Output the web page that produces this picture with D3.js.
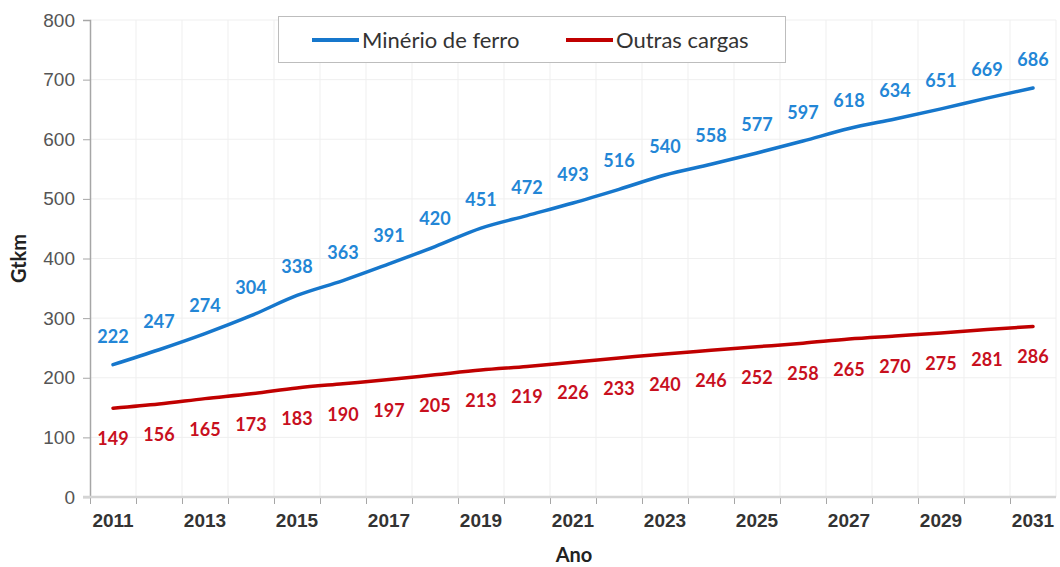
<!DOCTYPE html>
<html>
<head>
<meta charset="utf-8">
<script src="https://cdn.jsdelivr.net/npm/d3@7"></script>
<style>
  body { margin: 0; background: #fff; }
  svg { font-family: Lato, "Open Sans", sans-serif; }
</style>
</head>
<body>
<svg class="chart" width="1060" height="567"></svg>
<script>
// Static data
const years = d3.range(2011, 2032);
const minerio = [222, 247, 274, 304, 338, 363, 391, 420, 451, 472, 493, 516, 540, 558, 577, 597, 618, 634, 651, 669, 686];
const outras = [149, 156, 165, 173, 183, 190, 197, 205, 213, 219, 226, 233, 240, 246, 252, 258, 265, 270, 275, 281, 286];
const yTicks = [0, 100, 200, 300, 400, 500, 600, 700, 800];
const xLabels = years.filter(d => d % 2 === 1);

const seriesNames = ['Minério de ferro', 'Outras cargas'];
const colors = ['#1677cc', '#c00000'];
const labelColors = ['#2386d6', '#c8101e'];

const margin = { top: 20, right: 4, bottom: 70, left: 90 };
const width = 1060, height = 567;
const w = width - margin.left - margin.right;
const h = height - margin.top - margin.bottom;

const svg = d3.select('.chart');
const g = svg.append('g').attr('transform', `translate(${margin.left}, ${margin.top})`);

// scales
const x = d3.scaleBand().domain(years).range([0, w]).padding(0);
const xEdge = d3.scaleLinear().domain([0, years.length]).range([0, w]);
const y = d3.scaleLinear().domain([0, 800]).range([h, 0]);

// grid
g.append('g').selectAll('line')
  .data(yTicks.slice(1))
  .enter().append('line')
  .attr('x1', 0).attr('x2', w)
  .attr('y1', d => y(d)).attr('y2', d => y(d))
  .attr('stroke', '#efefef');

g.append('g').selectAll('line')
  .data(d3.range(1, years.length + 1))
  .enter().append('line')
  .attr('x1', d => xEdge(d)).attr('x2', d => xEdge(d))
  .attr('y1', 0).attr('y2', h)
  .attr('stroke', '#efefef');

// y axis
const yAxis = g.append('g')
  .call(d3.axisLeft(y).tickValues(yTicks).tickSize(7).tickPadding(8));
yAxis.select('.domain').attr('stroke', '#a6a6a6').attr('stroke-width', 1.5);
yAxis.selectAll('.tick line').attr('stroke', '#a6a6a6');
yAxis.selectAll('text').attr('fill', '#555').style('font-size', '19px');

// x axis ticks at category edges
const xTickAxis = g.append('g')
  .attr('transform', `translate(0, ${h})`)
  .call(d3.axisBottom(xEdge).tickValues(d3.range(0, years.length)).tickSize(7).tickFormat(''));
xTickAxis.select('.domain').remove();
xTickAxis.selectAll('.tick line').attr('stroke', '#a6a6a6');

g.append('line')
  .attr('x1', -7).attr('x2', w)
  .attr('y1', h).attr('y2', h)
  .attr('stroke', '#d4d4d4').attr('stroke-width', 2.5);

// x axis labels
const xAxis = g.append('g')
  .attr('transform', `translate(0, ${h})`)
  .call(d3.axisBottom(x).tickValues(xLabels).tickSize(0).tickPadding(17));
xAxis.select('.domain').remove();
xAxis.selectAll('text').attr('fill', '#333').style('font-size', '19px').style('font-weight', 'bold');

// axis titles
svg.append('text')
  .attr('transform', `translate(26, ${margin.top + h / 2}) rotate(-90)`)
  .attr('text-anchor', 'middle')
  .style('font-size', '20px').style('font-weight', 'bold').attr('fill', '#222')
  .text('Gtkm');

svg.append('text')
  .attr('x', 574).attr('y', 562)
  .attr('text-anchor', 'middle')
  .style('font-size', '20px').style('font-weight', 'bold').attr('fill', '#222')
  .text('Ano');

// lines
const line = d3.line()
  .x((d, i) => x(years[i]) + x.bandwidth() / 2)
  .y(d => y(d))
  .curve(d3.curveMonotoneX);

[minerio, outras].forEach((series, k) => {
  g.append('path')
   .datum(series)
   .attr('fill', 'none')
   .attr('stroke', colors[k])
   .attr('stroke-width', 3.5)
   .attr('stroke-linecap', 'round')
   .attr('d', line);

  g.append('g').selectAll('text')
   .data(series)
   .enter().append('text')
   .attr('x', (d, i) => x(years[i]) + x.bandwidth() / 2)
   .attr('y', d => k === 0 ? y(d) - 22 : y(d) + 37)
   .attr('text-anchor', 'middle')
   .attr('fill', labelColors[k])
   .style('font-size', '18px').style('font-weight', 'bold')
   .text(d => d);
});

// legend
const legend = svg.append('g');
legend.append('rect')
  .attr('x', 278.5).attr('y', 16.5)
  .attr('width', 507).attr('height', 46)
  .attr('fill', '#fff').attr('stroke', '#bdbdbd');

const legendX = [312, 566];
seriesNames.forEach((name, k) => {
  legend.append('line')
    .attr('x1', legendX[k]).attr('x2', legendX[k] + 47)
    .attr('y1', 40).attr('y2', 40)
    .attr('stroke', colors[k]).attr('stroke-width', 4);
  legend.append('text')
    .attr('x', legendX[k] + 50).attr('y', 48)
    .attr('fill', '#333')
    .style('font-size', '22px')
    .text(name);
});
</script>
</body>
</html>
